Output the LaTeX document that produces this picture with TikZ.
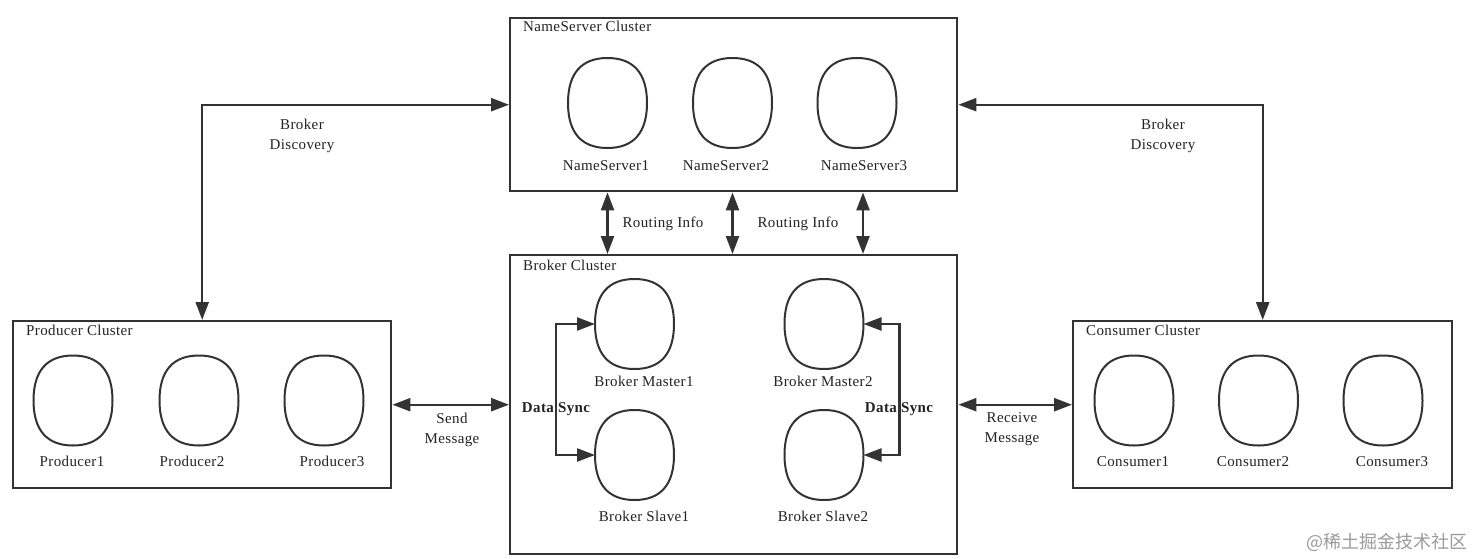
\documentclass[tikz,border=0pt]{standalone}
\usepackage{fontspec}
\setmainfont[LetterSpace=2.5]{Liberation Serif}
\newfontfamily\cjk{Noto Sans CJK SC}
\usetikzlibrary{arrows.meta,calc}
\definecolor{linec}{HTML}{333333}
\definecolor{textc}{HTML}{222222}
\definecolor{markc}{HTML}{9A9A9A}
\newcommand\sqcircle[1]{%
  \draw[srvline] (#1.north)
    .. controls ($(#1.north)!0.66!(#1.north east)$) and ($(#1.east)!0.66!(#1.north east)$) .. (#1.east)
    .. controls ($(#1.east)!0.66!(#1.south east)$) and ($(#1.south)!0.66!(#1.south east)$) .. (#1.south)
    .. controls ($(#1.south)!0.66!(#1.south west)$) and ($(#1.west)!0.66!(#1.south west)$) .. (#1.west)
    .. controls ($(#1.west)!0.66!(#1.north west)$) and ($(#1.north)!0.66!(#1.north west)$) .. (#1.north) -- cycle;}
\begin{document}
\begin{tikzpicture}[x=1pt,y=-1pt,
  cluster/.style={draw=linec, line width=2.4pt, inner sep=0pt, anchor=north west},
  srv/.style={minimum width=79pt, minimum height=90pt, inner sep=0pt, outer sep=0pt},
  srvline/.style={draw=linec, line width=2pt},
  lbl/.style={font=\fontsize{15}{20}\selectfont, text=textc, inner sep=0pt, anchor=base},
  ttl/.style={lbl, anchor=base west},
  two/.style={font=\fontsize{15}{20}\selectfont, text=textc, inner sep=0pt, align=center},
  bold/.style={font=\fontsize{15}{20}\selectfont\bfseries, text=textc, inner sep=0pt, anchor=base},
  dconn/.style={draw=linec, line width=2.4pt, {Triangle[length=18pt,width=13pt]}-{Triangle[length=18pt,width=13pt]}},
]
\useasboundingbox (0,0) rectangle (1473,558);

% clusters
\node[cluster, minimum width=447pt, minimum height=173pt] (ns) at (509,17) {};
\node[cluster, minimum width=447pt, minimum height=299pt] (br) at (509,254) {};
\node[cluster, minimum width=378pt, minimum height=167pt] (prod) at (12,320) {};
\node[cluster, minimum width=379pt, minimum height=167pt] (cons) at (1072,320) {};

% titles
\node[ttl] (nst) at (523,31) {NameServer Cluster};
\node[ttl] (brt) at (523,270) {Broker Cluster};
\node[ttl] (prt) at (26,335) {Producer Cluster};
\node[ttl] (cot) at (1086,335) {Consumer Cluster};

% name servers
\node[srv] (ns1) at (607.5,103) {};
\node[srv] (ns2) at (732.5,103) {};
\node[srv] (ns3) at (857,103) {};
\node[lbl] (ns1l) at (606,170) {NameServer1};
\node[lbl] (ns2l) at (726,170) {NameServer2};
\node[lbl] (ns3l) at (864,170) {NameServer3};

% brokers
\node[srv] (bm1) at (634.5,324) {};
\node[srv] (bm2) at (824,324) {};
\node[srv] (bs1) at (634.5,455) {};
\node[srv] (bs2) at (824,455) {};
\node[lbl] (bm1l) at (644,386) {Broker Master1};
\node[lbl] (bm2l) at (823,386) {Broker Master2};
\node[lbl] (bs1l) at (644,521) {Broker Slave1};
\node[lbl] (bs2l) at (823,521) {Broker Slave2};

% producers
\node[srv] (p1) at (73,400.5) {};
\node[srv] (p2) at (199,400.5) {};
\node[srv] (p3) at (324,400.5) {};
\node[lbl] (p1l) at (72,466) {Producer1};
\node[lbl] (p2l) at (192,466) {Producer2};
\node[lbl] (p3l) at (332,466) {Producer3};

% consumers
\node[srv] (c1) at (1134,400.5) {};
\node[srv] (c2) at (1258.5,400.5) {};
\node[srv] (c3) at (1383,400.5) {};
\node[lbl] (c1l) at (1133,466) {Consumer1};
\node[lbl] (c2l) at (1253,466) {Consumer2};
\node[lbl] (c3l) at (1392,466) {Consumer3};

\foreach \n in {ns1,ns2,ns3,bm1,bm2,bs1,bs2,p1,p2,p3,c1,c2,c3}{\sqcircle{\n}}

% connectors
\draw[dconn] (ns.west) -| (prod.north);
\draw[dconn] (ns.east) -| (cons.north);
\draw[dconn] (ns.south -| ns1) -- (br.north -| ns1);
\draw[dconn] (ns.south -| ns2) -- (br.north -| ns2);
\coordinate (r3) at (863,0);
\draw[dconn] (ns.south -| r3) -- (br.north -| r3);
\draw[dconn] (prod.east) -- (br.west);
\draw[dconn] (br.east) -- (cons.west);
\draw[dconn] (bm1.west) -- ++(-39,0) |- (bs1.west);
\draw[dconn] (bm2.east) -- ++(36,0) |- (bs2.east);

% connector labels
\node[two] (bdl) at (302,135.6) {Broker\\Discovery};
\node[two] (bdr) at (1163,135.6) {Broker\\Discovery};
\node[lbl] (ri1) at (663,227) {Routing Info};
\node[lbl] (ri2) at (798,227) {Routing Info};
\node[two] (sm) at (452,429.6) {Send\\Message};
\node[two] (rm) at (1012,429.6) {Receive\\Message};
\node[bold] (ds1) at (556,412) {Data Sync};
\node[bold] (ds2) at (899,412) {Data Sync};

% watermark
\node[font=\cjk\fontsize{18}{20}\selectfont, text=markc, inner sep=0pt] (wm) at (1387,542) {@稀土掘金技术社区};
\end{tikzpicture}
\end{document}
